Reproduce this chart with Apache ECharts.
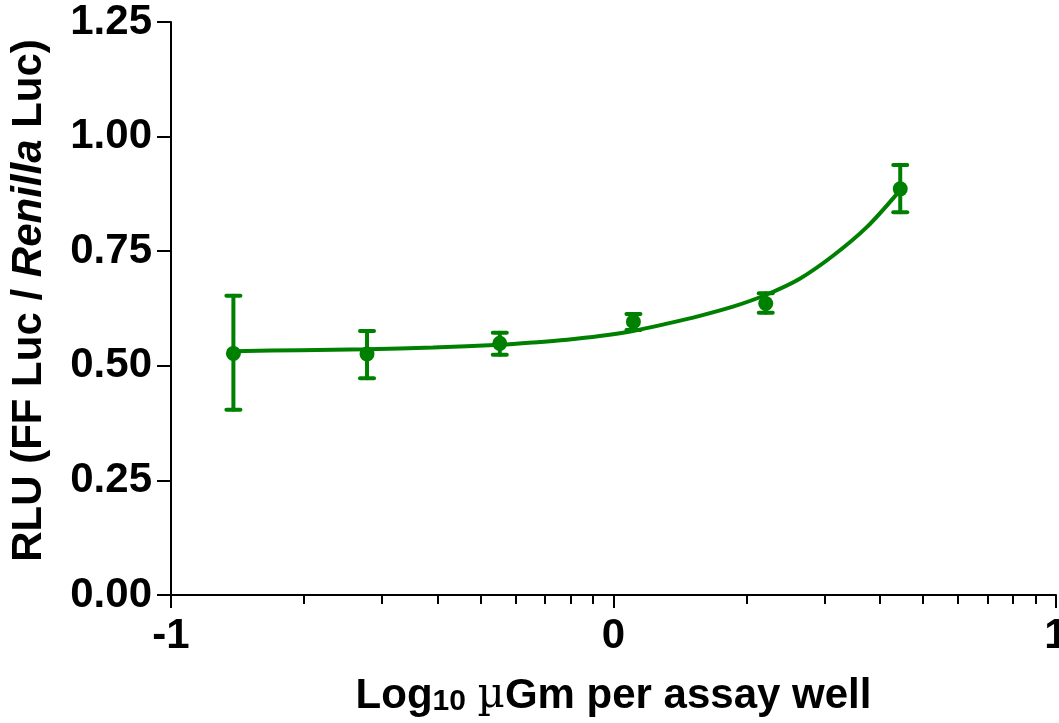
<!DOCTYPE html>
<html>
<head>
<meta charset="utf-8">
<script src="https://cdn.jsdelivr.net/npm/echarts@6/dist/echarts.min.js"></script>
<style>
html,body{margin:0;padding:0;background:#fff;}
#chart{width:1059px;height:723px;}
</style>
</head>
<body>
<div id="chart"></div>
<script>
// ---- data ----
const xVals  = [-0.859, -0.557, -0.257, 0.045, 0.344, 0.648];
const yMeans = [0.527, 0.526, 0.549, 0.596, 0.636, 0.886];
const yUpper = [0.653, 0.576, 0.572, 0.613, 0.658, 0.938];
const yLower = [0.404, 0.473, 0.524, 0.578, 0.616, 0.835];

// fitted curve
const curveX = [-0.860, -0.708, -0.557, -0.408, -0.256, -0.180, -0.105, -0.031, 0.044, 0.121, 0.195, 0.270, 0.345, 0.421, 0.496, 0.573, 0.645];
const curveY = [0.532, 0.534, 0.536, 0.540, 0.546, 0.551, 0.557, 0.565, 0.576, 0.592, 0.609, 0.629, 0.655, 0.690, 0.740, 0.803, 0.880];

const xMajorTicks = [-1, 0, 1];
const xMinorTicks = [-0.699, -0.523, -0.398, -0.301, -0.222, -0.155, -0.097, -0.046,
                      0.301,  0.477,  0.602,  0.699,  0.778,  0.845,  0.903,  0.954];
const yTicks = [0, 0.25, 0.5, 0.75, 1.0, 1.25];

const GREEN = '#008000';
const FONT = 'Liberation Sans';

const chart = echarts.init(document.getElementById('chart'));

const errData = xVals.map((x, i) => [x, yLower[i], yUpper[i]]);

const option = {
  animation: false,
  backgroundColor: '#fff',
  grid: {left: 171, right: 3, top: 22, bottom: 128, containLabel: false, outerBoundsMode: 'none'},
  xAxis: [{
    type: 'value', min: -1, max: 1, interval: 1,
    axisLine: {show: true, onZero: false, lineStyle: {color: '#000', width: 2}},
    axisTick: {show: true, inside: false, length: 13, lineStyle: {color: '#000', width: 2}},
    splitLine: {show: false},
    axisLabel: {
      color: '#000', fontFamily: FONT, fontWeight: 'bold', fontSize: 42, margin: 20,
      customValues: xMajorTicks,
      formatter: v => String(Math.round(v))
    },
    name: 'Log{sub|10} {mu|\u00b5}Gm per assay well',
    nameLocation: 'middle', nameGap: 80,
    nameTextStyle: {
      color: '#000', fontFamily: FONT, fontWeight: 'bold', fontSize: 42, lineHeight: 42,
      rich: {
        sub: {fontFamily: FONT, fontWeight: 'bold', fontSize: 30, lineHeight: 16, verticalAlign: 'bottom', color: '#000'},
        mu: {fontFamily: 'DejaVu Serif', fontWeight: 'normal', fontSize: 42, lineHeight: 42, color: '#000'}
      }
    }
  }, {
    type: 'value', min: -1, max: 1, position: 'bottom',
    axisLine: {show: false, onZero: false},
    axisTick: {show: true, length: 9, customValues: xMinorTicks, lineStyle: {color: '#000', width: 2}},
    axisLabel: {show: false},
    splitLine: {show: false}
  }],
  yAxis: {
    type: 'value', min: 0, max: 1.25, interval: 0.25,
    axisLine: {show: true, onZero: false, lineStyle: {color: '#000', width: 2}},
    axisTick: {show: true, inside: false, length: 14, lineStyle: {color: '#000', width: 2}},
    splitLine: {show: false},
    axisLabel: {
      color: '#000', fontFamily: FONT, fontWeight: 'bold', fontSize: 42, margin: 19,
      customValues: yTicks,
      formatter: v => v.toFixed(2)
    },
    name: 'RLU (FF Luc / {i|Renilla} Luc)',
    nameLocation: 'middle', nameRotate: 90, nameGap: 121,
    nameTextStyle: {
      color: '#000', fontFamily: FONT, fontWeight: 'bold', fontSize: 42,
      padding: [0, 0, 0, 16],
      rich: {
        i: {fontFamily: FONT, fontWeight: 'bold', fontStyle: 'italic', fontSize: 42, color: '#000'}
      }
    }
  },
  series: [{
    type: 'line',
    data: curveX.map((x, i) => [x, curveY[i]]),
    smooth: 0.3,
    showSymbol: false,
    lineStyle: {color: GREEN, width: 4},
    z: 3
  }, {
    type: 'custom',
    data: errData,
    renderItem: function (params, api) {
      const x = api.value(0);
      const lo = api.coord([x, api.value(1)]);
      const hi = api.coord([x, api.value(2)]);
      const hw = 7;
      const style = {stroke: GREEN, lineWidth: 4, lineCap: 'round'};
      return {
        type: 'group',
        children: [
          {type: 'line', shape: {x1: lo[0], y1: lo[1], x2: hi[0], y2: hi[1]}, style: style},
          {type: 'line', shape: {x1: hi[0] - hw, y1: hi[1], x2: hi[0] + hw, y2: hi[1]}, style: style},
          {type: 'line', shape: {x1: lo[0] - hw, y1: lo[1], x2: lo[0] + hw, y2: lo[1]}, style: style}
        ]
      };
    },
    z: 4
  }, {
    type: 'scatter',
    data: xVals.map((x, i) => [x, yMeans[i]]),
    symbol: 'circle', symbolSize: 15,
    itemStyle: {color: GREEN, opacity: 1},
    z: 5
  }]
};
chart.setOption(option);
</script>
</body>
</html>
